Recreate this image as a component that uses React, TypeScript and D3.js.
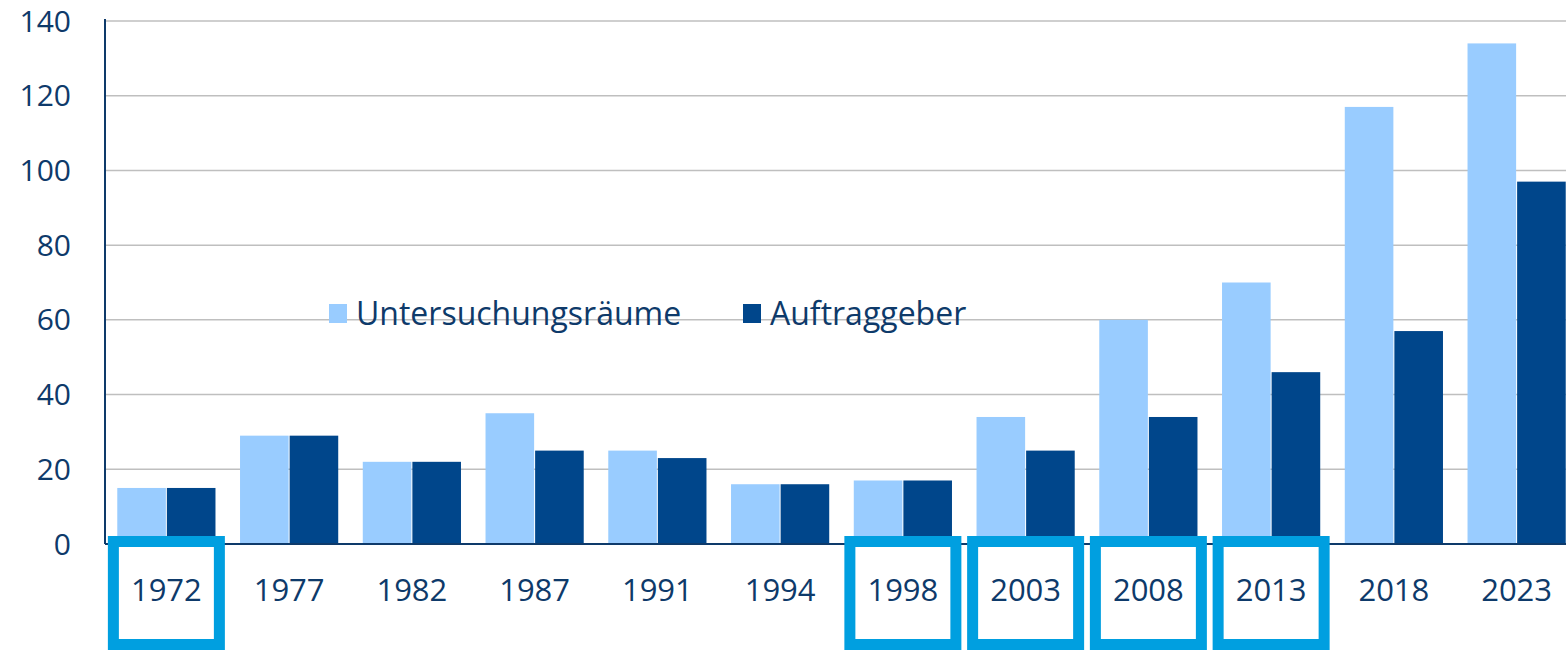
import { useEffect, useRef } from 'react';
import * as d3 from 'd3';

const years = ['1972', '1977', '1982', '1987', '1991', '1994', '1998', '2003', '2008', '2013', '2018', '2023'];
const untersuchungsraeume = [15, 29, 22, 35, 25, 16, 17, 34, 60, 70, 117, 134];
const auftraggeber = [15, 29, 22, 25, 23, 16, 17, 25, 34, 46, 57, 97];
const yTicks = [0, 20, 40, 60, 80, 100, 120, 140];
const highlighted = ['1972', '1998', '2003', '2008', '2013'];
const seriesNames = ['Untersuchungsräume', 'Auftraggeber'];

const LIGHT = '#99ccff';
const DARK = '#00468b';
const TEXT = '#0e3a6a';
const BOX = '#009fe0';

const App = () => {
    const svgRef = useRef(null);

    useEffect(() => {
        const width = 1566;
        const height = 650;
        const margin = { top: 21, right: -12, bottom: 106, left: 105 };

        const svg = d3.select(svgRef.current);
        svg.selectAll('*').remove();

        const x = d3.scaleBand()
            .domain(years)
            .range([margin.left, width - margin.right])
            .paddingInner(0.2)
            .paddingOuter(0.1);
        // two bars per group, side by side with a thin gap
        const groupW = x.step() * 0.8;
        const inner = d3.scaleBand()
            .domain(seriesNames)
            .range([0, groupW])
            .paddingInner(0.02);
        const groupStart = (yr) => margin.left + x.step() * 0.1 + years.indexOf(yr) * x.step();

        const y = d3.scaleLinear()
            .domain([0, 140])
            .range([height - margin.bottom, margin.top]);

        const font = '"Open Sans", "Noto Sans", sans-serif';

        // gridlines
        svg.append('g')
            .selectAll('line')
            .data(yTicks.filter(t => t > 0))
            .enter()
            .append('line')
            .attr('x1', margin.left)
            .attr('x2', width)
            .attr('y1', d => y(d))
            .attr('y2', d => y(d))
            .attr('stroke', '#bfbfbf')
            .attr('stroke-width', 1.5);

        // y tick labels
        svg.append('g')
            .selectAll('text')
            .data(yTicks)
            .enter()
            .append('text')
            .attr('x', 71)
            .attr('y', d => y(d))
            .attr('dy', '0.35em')
            .attr('text-anchor', 'end')
            .attr('fill', TEXT)
            .style('font-family', font)
            .style('font-size', '30px')
            .text(d => d);

        // bars
        const series = [untersuchungsraeume, auftraggeber];
        series.forEach((vals, si) => {
            svg.append('g')
                .selectAll('rect')
                .data(years)
                .enter()
                .append('rect')
                .attr('x', d => groupStart(d) + inner(seriesNames[si]))
                .attr('y', (d, i) => y(vals[i]))
                .attr('width', inner.bandwidth())
                .attr('height', (d, i) => y(0) - y(vals[i]))
                .attr('fill', si === 0 ? LIGHT : DARK);
        });

        // axis lines
        svg.append('line')
            .attr('x1', margin.left).attr('x2', margin.left)
            .attr('y1', margin.top - 2).attr('y2', y(0))
            .attr('stroke', TEXT).attr('stroke-width', 2);
        svg.append('line')
            .attr('x1', margin.left).attr('x2', width)
            .attr('y1', y(0)).attr('y2', y(0))
            .attr('stroke', TEXT).attr('stroke-width', 2);

        // highlight boxes round some year labels
        svg.append('g')
            .selectAll('rect')
            .data(highlighted)
            .enter()
            .append('rect')
            .attr('x', d => groupStart(d) + groupW / 2 - 53)
            .attr('y', 541.5)
            .attr('width', 106)
            .attr('height', 103)
            .attr('fill', 'none')
            .attr('stroke', BOX)
            .attr('stroke-width', 11);

        // year labels
        svg.append('g')
            .selectAll('text')
            .data(years)
            .enter()
            .append('text')
            .attr('x', d => groupStart(d) + groupW / 2)
            .attr('y', 590)
            .attr('dy', '0.35em')
            .attr('text-anchor', 'middle')
            .attr('fill', TEXT)
            .style('font-family', font)
            .style('font-size', '31px')
            .text(d => d);

        // legend
        const legendX = [329, 743];
        seriesNames.forEach((name, i) => {
            svg.append('rect')
                .attr('x', legendX[i])
                .attr('y', 304)
                .attr('width', 18)
                .attr('height', 19)
                .attr('fill', i === 0 ? LIGHT : DARK);
            svg.append('text')
                .attr('x', legendX[i] + 27)
                .attr('y', 314)
                .attr('dy', '0.35em')
                .attr('fill', TEXT)
                .style('font-family', font)
                .style('font-size', '32px')
                .text(name);
        });
    }, []);

    return (
        <svg
            ref={svgRef}
            width={1566}
            height={650}
            style={{ position: 'absolute', left: 0, top: 0, background: '#fff', overflow: 'hidden' }}
        />
    );
};

export default App;
